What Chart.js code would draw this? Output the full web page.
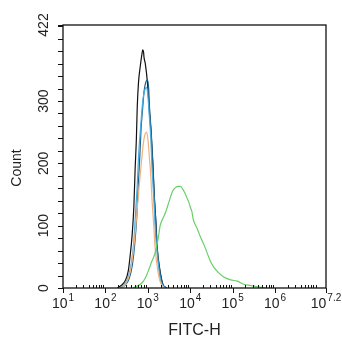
<!DOCTYPE html>
<html>
<head>
<meta charset="utf-8">
<script src="https://cdn.jsdelivr.net/npm/chart.js@4.4.1/dist/chart.umd.min.js"></script>
<style>
  html, body { margin: 0; padding: 0; background: #fff; }
  canvas { display: block; }
</style>
</head>
<body>
<canvas id="myChart" width="342" height="350"></canvas>
<script>
// x values are log10(FITC-H), y values are event counts
var xTickExps = [1, 2, 3, 4, 5, 6, 7.2];
var xTickLabels = ['1', '2', '3', '4', '5', '6', '7.2'];
var yTicks = [0, 100, 200, 300, 422];

var blackExp = [2.28, 2.37, 2.47, 2.54, 2.58, 2.63, 2.67, 2.70, 2.73, 2.75, 2.78, 2.82, 2.86, 2.88, 2.90, 2.91, 2.94, 2.99, 3.03, 3.08, 3.12, 3.15, 3.19, 3.22, 3.27, 3.32, 3.36, 3.44];
var blackCnt = [0, 4, 12, 28, 50, 85, 130, 190, 240, 290, 330, 355, 375, 382, 378, 370, 360, 330, 290, 245, 195, 150, 105, 65, 35, 15, 5, 0];

var darkBlueExp = [2.37, 2.47, 2.56, 2.63, 2.69, 2.74, 2.77, 2.81, 2.84, 2.88, 2.91, 2.95, 2.99, 3.02, 3.04, 3.08, 3.12, 3.15, 3.19, 3.22, 3.27, 3.32, 3.36, 3.44];
var darkBlueCnt = [0, 5, 15, 35, 70, 115, 160, 210, 255, 290, 315, 330, 334, 320, 290, 250, 200, 150, 105, 65, 33, 14, 5, 0];

var lightBlueExp = [2.35, 2.44, 2.54, 2.61, 2.67, 2.71, 2.75, 2.78, 2.82, 2.86, 2.89, 2.93, 2.96, 3.00, 3.03, 3.07, 3.10, 3.14, 3.17, 3.21, 3.26, 3.30, 3.35, 3.41];
var lightBlueCnt = [0, 6, 18, 40, 75, 120, 165, 210, 250, 285, 305, 318, 322, 310, 280, 240, 190, 145, 100, 62, 30, 12, 4, 0];

var orangeExp = [2.39, 2.49, 2.58, 2.65, 2.71, 2.76, 2.81, 2.86, 2.90, 2.94, 2.97, 3.00, 3.03, 3.07, 3.10, 3.14, 3.17, 3.22, 3.27, 3.32, 3.39];
var orangeCnt = [0, 8, 25, 55, 95, 135, 175, 210, 235, 248, 250, 240, 215, 180, 140, 100, 65, 35, 15, 6, 0];

var greenExp = [2.65, 2.75, 2.86, 2.94, 3.02, 3.09, 3.17, 3.25, 3.29, 3.33, 3.37, 3.41, 3.46, 3.52, 3.58, 3.65, 3.72, 3.77, 3.81, 3.87, 3.92, 3.97, 4.00, 4.04, 4.07, 4.16, 4.24, 4.32, 4.40, 4.48, 4.55, 4.66, 4.78, 4.95, 5.11, 5.26, 5.42, 5.58, 5.78];
var greenCnt = [0, 3, 8, 16, 29, 42, 56, 82, 100, 108, 114, 120, 130, 143, 155, 161, 163, 163, 160, 153, 145, 137, 130, 122, 110, 96, 82, 70, 56, 42, 34, 25, 18, 13, 11, 6, 4, 2, 0];

var ctx = document.getElementById('myChart');

function toPoints(exps, counts) {
    return exps.map(function(e, i) {
        return { x: Math.pow(10, e), y: counts[i] };
    });
}

function curve(exps, counts, color) {
    return {
        data: toPoints(exps, counts),
        borderColor: color,
        borderWidth: 1.2,
        pointRadius: 0,
        fill: false,
        cubicInterpolationMode: 'monotone'
    };
}

var FONT = '"Liberation Sans", Arial, sans-serif';

// frame, ticks and labels drawn from the chart's own scales
var axesPlugin = {
    id: 'flowAxes',
    afterDraw: function(chart) {
        var c = chart.ctx;
        var area = chart.chartArea;
        var xs = chart.scales.x;
        var ys = chart.scales.y;
        c.save();
        c.strokeStyle = '#111';
        c.lineWidth = 1.3;
        c.strokeRect(area.left, area.top, area.right - area.left, area.bottom - area.top);

        c.lineWidth = 1;
        c.beginPath();
        // y ticks every 20 plus the top
        for (var v = 0; v <= 420; v += 20) {
            var py = Math.round(ys.getPixelForValue(v)) + 0.5;
            c.moveTo(area.left - 5, py);
            c.lineTo(area.left, py);
        }
        var pTop = Math.round(ys.getPixelForValue(422)) + 0.5;
        c.moveTo(area.left - 5, pTop);
        c.lineTo(area.left, pTop);

        // x major ticks (down) and minor ticks (up)
        xTickExps.forEach(function(e) {
            var px = Math.round(xs.getPixelForValue(Math.pow(10, e))) + 0.5;
            c.moveTo(px, area.bottom);
            c.lineTo(px, area.bottom + 5);
        });
        for (var d = 1; d <= 7; d++) {
            for (var k = 2; k <= 9; k++) {
                var val = k * Math.pow(10, d);
                if (val >= Math.pow(10, 7.2)) continue;
                var mx = Math.round(xs.getPixelForValue(val)) + 0.5;
                c.moveTo(mx, area.bottom);
                c.lineTo(mx, area.bottom - 3);
            }
        }
        c.stroke();

        c.fillStyle = '#222';
        // x tick labels: 10 with superscript exponent
        xTickExps.forEach(function(e, i) {
            var px = xs.getPixelForValue(Math.pow(10, e));
            c.font = '14px ' + FONT;
            var wBase = c.measureText('10').width;
            c.font = '10px ' + FONT;
            var wExp = c.measureText(xTickLabels[i]).width;
            var total = wBase + 1 + wExp;
            var x0 = px - total / 2;
            if (x0 + total > chart.width) x0 = chart.width - total;
            c.textAlign = 'left';
            c.textBaseline = 'alphabetic';
            c.font = '14px ' + FONT;
            c.fillText('10', x0, 308);
            c.font = '10px ' + FONT;
            c.fillText(xTickLabels[i], x0 + wBase + 1, 301);
        });

        // y tick labels, rotated
        c.font = '14px ' + FONT;
        c.textAlign = 'center';
        yTicks.forEach(function(v) {
            var py = ys.getPixelForValue(v);
            c.save();
            c.translate(48, py);
            c.rotate(-Math.PI / 2);
            c.fillText(String(v), 0, 0);
            c.restore();
        });

        // axis titles
        c.save();
        c.translate(21, 168);
        c.rotate(-Math.PI / 2);
        c.font = '14px ' + FONT;
        c.fillText('Count', 0, 0);
        c.restore();

        c.font = '16px ' + FONT;
        c.fillText('FITC-H', (area.left + area.right) / 2, 335);
        c.restore();
    }
};

var myChart = new Chart(ctx, {
    type: 'line',
    data: {
        datasets: [
            curve(greenExp, greenCnt, '#66d066'),
            curve(orangeExp, orangeCnt, '#f0b27c'),
            curve(lightBlueExp, lightBlueCnt, '#46ace0'),
            curve(darkBlueExp, darkBlueCnt, '#1d5f8c'),
            curve(blackExp, blackCnt, '#111111')
        ]
    },
    options: {
        responsive: false,
        animation: false,
        layout: { padding: { top: 25, right: 16, left: 0, bottom: 0 } },
        plugins: { legend: { display: false }, tooltip: { enabled: false } },
        scales: {
            x: {
                type: 'logarithmic',
                min: 10,
                max: Math.pow(10, 7.2),
                afterFit: function(s) { s.height = 62; },
                ticks: { display: false },
                grid: { display: false },
                border: { display: false }
            },
            y: {
                min: 0,
                max: 422,
                afterFit: function(s) { s.width = 63; },
                ticks: { display: false },
                grid: { display: false },
                border: { display: false }
            }
        }
    },
    plugins: [axesPlugin]
});
</script>
</body>
</html>
